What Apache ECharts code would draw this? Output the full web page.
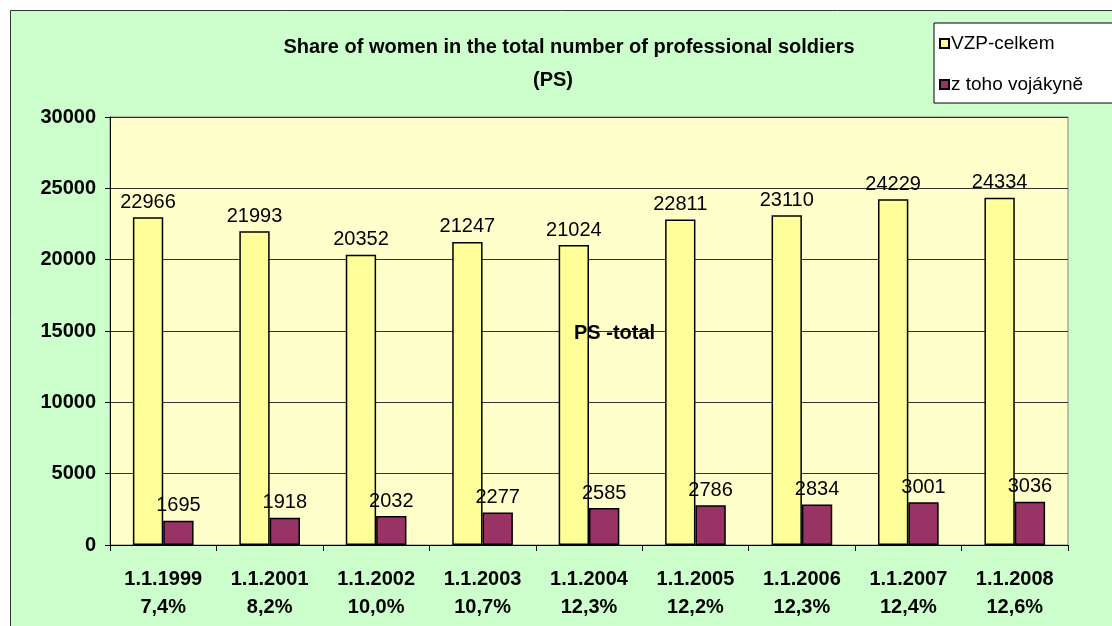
<!DOCTYPE html>
<html>
<head>
<meta charset="utf-8">
<script src="https://cdn.jsdelivr.net/npm/echarts@6/dist/echarts.min.js"></script>
<style>
html,body{margin:0;padding:0;background:#fff;}
#chart{width:1112px;height:626px;}
</style>
</head>
<body>
<div id="chart"></div>
<script>
var fontFamily='Arial,"Liberation Sans",sans-serif';

var dates=['1.1.1999','1.1.2001','1.1.2002','1.1.2003','1.1.2004','1.1.2005','1.1.2006','1.1.2007','1.1.2008'];
var shares=['7,4%','8,2%','10,0%','10,7%','12,3%','12,2%','12,3%','12,4%','12,6%'];
var total=[22966,21993,20352,21247,21024,22811,23110,24229,24334];
var women=[1695,1918,2032,2277,2585,2786,2834,3001,3036];
var yTicks=[0,5000,10000,15000,20000,25000,30000];

var categories=dates.map(function(d,i){return d+'\n'+shares[i];});

var chart=echarts.init(document.getElementById('chart'));
var option={
    backgroundColor:'#ffffff',
    animation:false,
    graphic:[
        {
            type:'rect',
            z:-10,
            shape:{x:10.5,y:10.5,width:1130,height:640},
            style:{fill:'#CCFFCC',stroke:'#333333',lineWidth:1}
        },
        {
            type:'text',
            x:569,y:47,z:10,
            style:{text:'Share of women in the total number of professional soldiers',
                font:'bold 20px '+fontFamily,fill:'#000',align:'center',verticalAlign:'middle'}
        },
        {
            type:'text',
            x:553,y:80,z:10,
            style:{text:'(PS)',font:'bold 20px '+fontFamily,fill:'#000',align:'center',verticalAlign:'middle'}
        },
        {
            type:'text',
            x:574,y:333,z:10,
            style:{text:'PS -total',font:'bold 20px '+fontFamily,fill:'#000',verticalAlign:'middle'}
        }
    ],
    legend:{
        orient:'vertical',
        left:934,
        top:23,
        padding:[11,40,9,5],
        itemGap:22,
        itemWidth:9,
        itemHeight:9,
        backgroundColor:'#ffffff',
        borderColor:'#000000',
        borderWidth:1,
        borderRadius:0,
        icon:'rect',
        textStyle:{fontSize:19,fontFamily:fontFamily,color:'#000',padding:[0,0,0,-3]},
        data:['VZP-celkem','z toho vojákyně']
    },
    grid:{
        left:110,top:117,width:958,height:428,
        show:true,
        backgroundColor:'#FFFFCC',
        borderColor:'#808080',
        borderWidth:1
    },
    xAxis:{
        type:'category',
        data:categories,
        axisLine:{lineStyle:{color:'#000',width:1}},
        axisTick:{show:true,alignWithLabel:false,length:6,lineStyle:{color:'#000'}},
        axisLabel:{
            margin:20,
            interval:0,
            fontFamily:fontFamily,fontSize:20,fontWeight:'bold',color:'#000',
            lineHeight:28
        },
        splitLine:{show:false}
    },
    yAxis:{
        type:'value',
        min:yTicks[0],
        max:yTicks[yTicks.length-1],
        interval:5000,
        axisLine:{show:true,lineStyle:{color:'#000',width:1}},
        axisTick:{show:true,length:5,lineStyle:{color:'#000'}},
        axisLabel:{margin:14,fontFamily:fontFamily,fontSize:20,fontWeight:'bold',color:'#000',
            formatter:function(v){return String(v);}},
        splitLine:{show:true,lineStyle:{color:'#333333',width:1}}
    },
    series:[
        {
            name:'VZP-celkem',
            type:'bar',
            data:total,
            barGap:'0%',
            barCategoryGap:'43%',
            itemStyle:{color:'#FFFF99',borderColor:'#000',borderWidth:1.5},
            label:{show:true,position:'top',distance:5,fontFamily:fontFamily,fontSize:20,color:'#000'}
        },
        {
            name:'z toho vojákyně',
            type:'bar',
            data:women,
            itemStyle:{color:'#993366',borderColor:'#000',borderWidth:1.5},
            label:{show:true,position:'top',distance:5,fontFamily:fontFamily,fontSize:20,color:'#000'}
        }
    ]
};
chart.setOption(option);
</script>
</body>
</html>
